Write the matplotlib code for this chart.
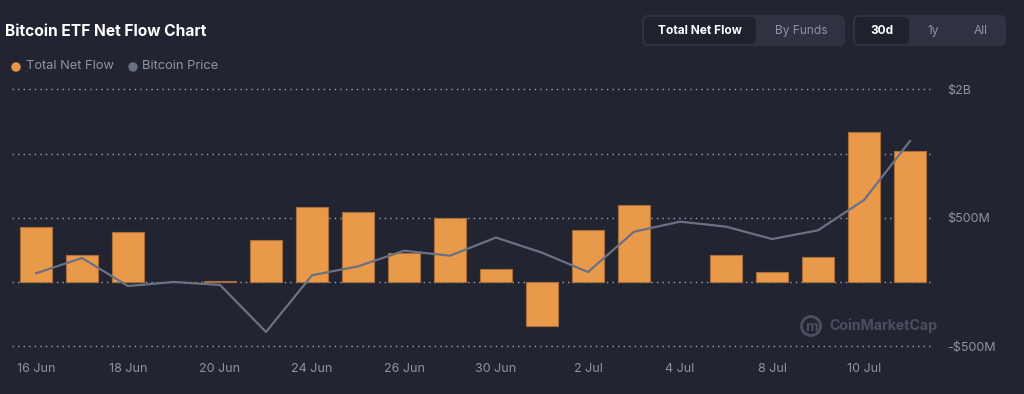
import matplotlib
matplotlib.use("Agg")
import matplotlib.pyplot as plt
from matplotlib.patches import FancyBboxPatch, Ellipse

# daily data (net flow in $M, price in $)
dates = ["16 Jun", "17 Jun", "18 Jun", "19 Jun", "20 Jun", "21 Jun", "24 Jun",
         "25 Jun", "26 Jun", "27 Jun", "30 Jun", "1 Jul", "2 Jul", "3 Jul",
         "4 Jul", "7 Jul", "8 Jul", "9 Jul", "10 Jul", "11 Jul"]
net_flow = [426, 213, 389, 0, 6, 327, 582, 543, 228, 498,
            104, -340, 405, 597, 0, 213, 76, 197, 1166, 1020]
btc_price = [106070, 107390, 104970, 105320, 105060, 101000, 105900, 106670,
             108020, 107590, 109160, 107850, 106180, 109660, 110530, 110100,
             109030, 109780, 112400, 117500]
grid_vals = [-500, 0, 500, 1000, 1500]
grid_labels = ["-$500M", "", "$500M", "", "$2B"]

BG = "#222531"
ORANGE = "#e8994a"
LINE = "#6b7184"
TXT = "#8e93a3"

plt.rcParams['font.family'] = ['Inter', 'DejaVu Sans']

W, H = 1024, 394
fig = plt.figure(figsize=(W / 100, H / 100), dpi=100, facecolor=BG)

# axes placed in pixel space
x0, x1, ytop, ybot = 12, 932, 80, 350
ax = fig.add_axes([x0 / W, (H - ybot) / H, (x1 - x0) / W, (ybot - ytop) / H])
ax.set_facecolor(BG)
for s in ax.spines.values():
    s.set_visible(False)

idx = list(range(len(dates)))
# days with zero flow have no bar
shown = [i for i in idx if net_flow[i] != 0]
ax.bar(shown, [net_flow[i] for i in shown], width=0.71, color=ORANGE,
       edgecolor="#a86f3a", linewidth=0.8, zorder=3)
ax.set_xlim((x0 - 36) / 46, (x1 - 36) / 46)
ax.set_ylim((282 - ybot) * 500 / 64.2, (282 - ytop) * 500 / 64.2)

for g in grid_vals:
    ax.axhline(g, color="#9aa0ae", linewidth=1, linestyle=(0, (1, 3)), zorder=1)

# price line on its own scale
ax2 = ax.twinx()
ax2.plot(idx, btc_price, color=LINE, linewidth=1.6, zorder=4)
ax2.set_ylim(117500 + (141 - ybot) * 86.4, 117500 + (141 - ytop) * 86.4)
ax2.set_yticks([])
for s in ax2.spines.values():
    s.set_visible(False)

# twinx moves the ticks to the left, so put them back on the right
ax.yaxis.tick_right()
ax.set_yticks(grid_vals)
ax.set_yticklabels(grid_labels)
ax.tick_params(axis="y", length=0, pad=11, labelsize=9, labelcolor=TXT,
               left=False, labelleft=False, right=False, labelright=True)
ax.set_xticks(idx[::2])
ax.set_xticklabels(dates[::2])
ax.tick_params(axis="x", length=0, pad=9, labelsize=9, labelcolor=TXT)

# title + legend
fig.text(5 / W, 1 - 31 / H, "Bitcoin ETF Net Flow Chart", color="white",
         fontsize=11.2, fontweight="bold", va="center", ha="left")


def dot(px, py, r, **kw):
    fig.add_artist(Ellipse((px / W, 1 - py / H), 2 * r / W, 2 * r / H,
                           transform=fig.transFigure, **kw))


dot(16, 67, 4, color=ORANGE)
fig.text(26 / W, 1 - 66 / H, "Total Net Flow", color=TXT, fontsize=9.3,
         va="center", ha="left")
dot(133, 67, 4, color=LINE)
fig.text(142 / W, 1 - 66 / H, "Bitcoin Price", color=TXT, fontsize=9.3,
         va="center", ha="left")


# toggle buttons in the top right
def box(px, py, pw, ph, color, r=6):
    fig.add_artist(FancyBboxPatch((px / W, 1 - (py + ph) / H), pw / W, ph / H,
                                  boxstyle="round,pad=0,rounding_size=%f" % (r / W),
                                  transform=fig.transFigure, facecolor=color,
                                  edgecolor="none", mutation_aspect=W / H))


box(642, 15, 203, 31, "#2f3241")
box(644, 17, 112, 27, "#1f222d", r=5)
box(853, 15, 153, 31, "#2f3241")
box(855, 17, 54, 27, "#1f222d", r=5)
for label, cx, col, wt in [("Total Net Flow", 700, "white", "bold"),
                           ("By Funds", 801, TXT, "normal"),
                           ("30d", 882, "white", "bold"),
                           ("1y", 933, TXT, "normal"),
                           ("All", 981, TXT, "normal")]:
    fig.text(cx / W, 1 - 31 / H, label, color=col, fontsize=8.6,
             fontweight=wt, ha="center", va="center")

# watermark
WM = "#4a4e5f"
dot(811, 326, 9.5, fill=False, edgecolor=WM, linewidth=2)
fig.text(811 / W, 1 - 327 / H, "m", color=WM, fontsize=10, fontweight="bold",
         ha="center", va="center")
fig.text(829 / W, 1 - 326 / H, "CoinMarketCap", color=WM,
         fontsize=10.2, fontweight="bold", ha="left", va="center")

fig.savefig("out.png", dpi=100, facecolor=BG)
